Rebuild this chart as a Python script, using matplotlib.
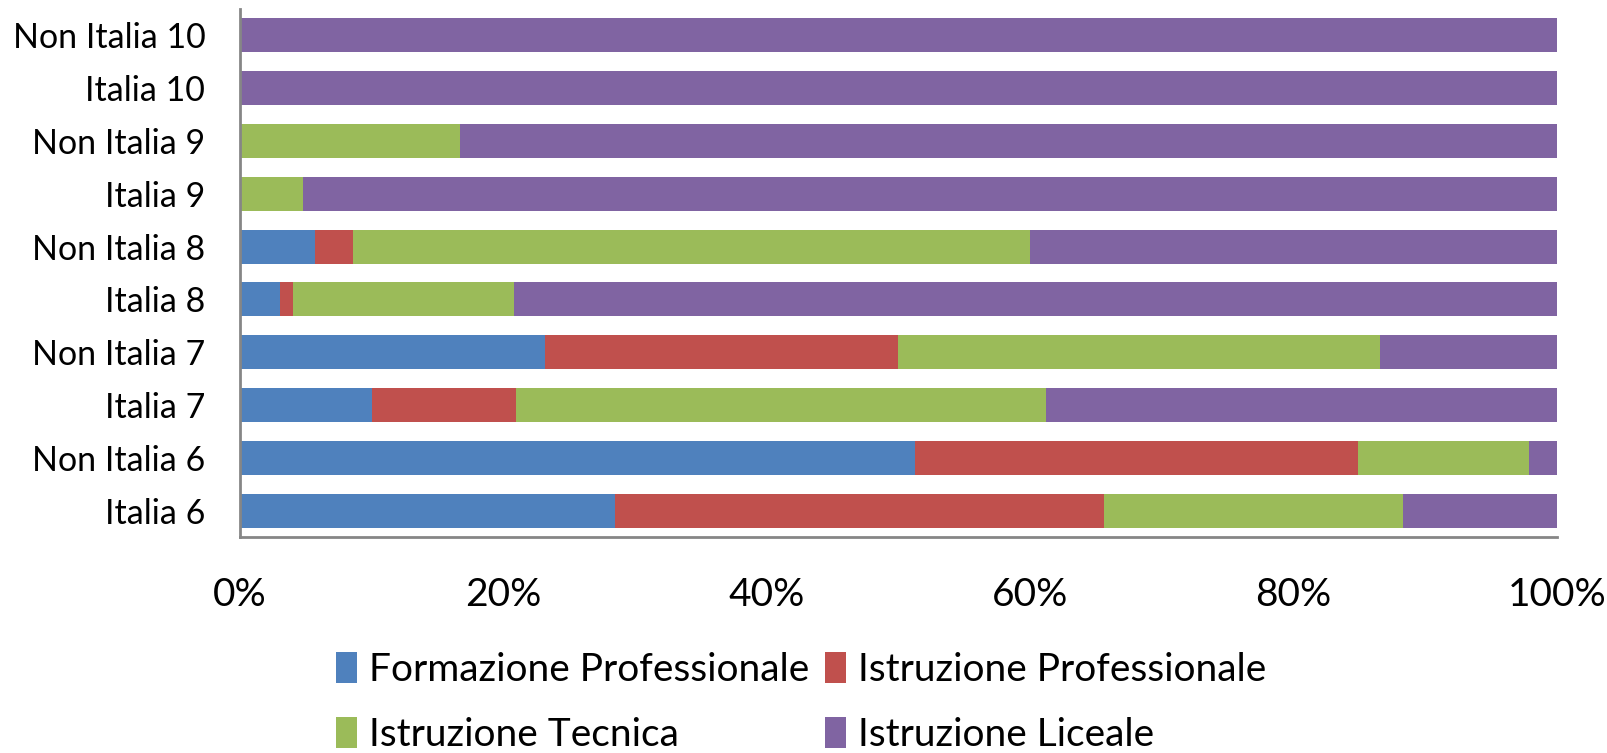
import matplotlib
matplotlib.use("Agg")
import matplotlib.pyplot as plt
import numpy as np

plt.rcParams['font.family'] = ['Lato', 'DejaVu Sans']

categories = ["Italia 6", "Non Italia 6", "Italia 7", "Non Italia 7", "Italia 8",
              "Non Italia 8", "Italia 9", "Non Italia 9", "Italia 10", "Non Italia 10"]
formazione_prof = [28.45, 51.29, 10.05, 23.17, 3.06, 5.72, 0.0, 0.0, 0.0, 0.0]
istruzione_prof = [37.18, 33.61, 10.91, 26.81, 0.96, 2.88, 0.0, 0.0, 0.0, 0.0]
istruzione_tec = [22.69, 12.95, 40.24, 36.59, 16.76, 51.40, 4.78, 16.68, 0.0, 0.0]
istruzione_lic = [11.68, 2.15, 38.80, 13.43, 79.22, 40.00, 95.22, 83.32, 100.0, 100.0]

series = [
    ("Formazione Professionale", formazione_prof, "#4F81BD"),
    ("Istruzione Professionale", istruzione_prof, "#C0504D"),
    ("Istruzione Tecnica", istruzione_tec, "#9BBB59"),
    ("Istruzione Liceale", istruzione_lic, "#8064A2"),
]

fig = plt.figure(figsize=(16.07, 7.53), dpi=100)
ax = fig.add_axes([240 / 1607, 1 - 537 / 753, 1317 / 1607, 528 / 753])

y = np.arange(len(categories))
left = np.zeros(len(categories))
handles = {}
for name, vals, color in series:
    vals = np.array(vals)
    b = ax.barh(y, vals, left=left, height=0.645, color=color, label=name)
    handles[name] = b
    left += vals

ax.set_xlim(0, 100)
ax.set_ylim(-0.5, len(categories) - 0.5)
ax.set_yticks(y)
ax.set_yticklabels(categories, fontsize=24.5)
ax.set_xticks([0, 20, 40, 60, 80, 100])
ax.set_xticklabels([f"{v}%" for v in [0, 20, 40, 60, 80, 100]], fontsize=28)
ax.tick_params(axis='y', length=0, pad=25)
ax.tick_params(axis='x', length=0, pad=29)

for s in ["top", "right"]:
    ax.spines[s].set_visible(False)
for s in ["left", "bottom"]:
    ax.spines[s].set_color("#868686")
    ax.spines[s].set_linewidth(2)

order = ["Formazione Professionale", "Istruzione Tecnica",
         "Istruzione Professionale", "Istruzione Liceale"]
fig.legend([handles[n] for n in order], order, loc="upper left",
           bbox_to_anchor=(336 / 1607, 1 - 652 / 753), ncol=2, frameon=False,
           fontsize=28, handlelength=0.55, handleheight=0.85, handletextpad=0.3,
           columnspacing=0.4, labelspacing=0.75, borderpad=0, borderaxespad=0)

fig.savefig("out.png", dpi=100)
